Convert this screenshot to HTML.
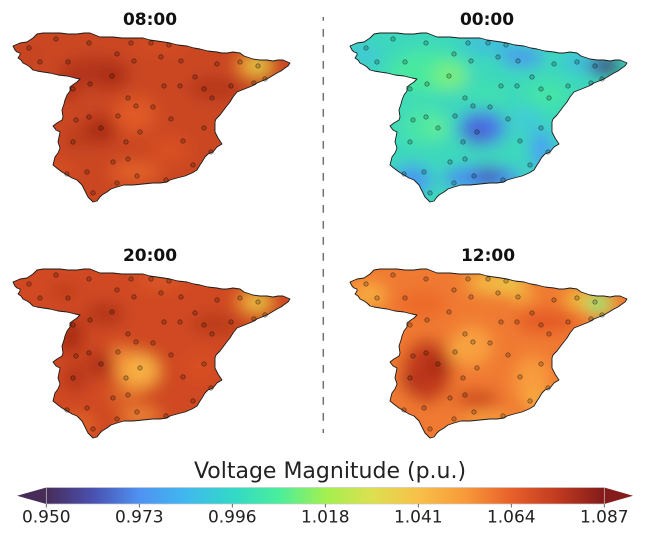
<!DOCTYPE html>
<html><head><meta charset="utf-8"><style>
html,body{margin:0;padding:0;background:#fff;}
svg{display:block;}
text{font-family:"DejaVu Sans","Liberation Sans",sans-serif;}
</style></head><body>
<svg width="646" height="547" viewBox="0 0 646 547" xmlns="http://www.w3.org/2000/svg">
<defs>
<clipPath id="cp"><path d="M13,46 L20,43 L27,42 L33,38 L37,34 L43,33 L50,33 L60,33 L68,34 L77,34 L84,33 L90,33 L95,35 L100,37 L113,37 L122,38 L130,38 L143,38 L150,40 L157,41 L164,42 L170,43 L178,45 L187,46 L194,48 L200,49 L208,51 L217,52 L222,53 L227,53 L233,52 L240,53 L244,56 L247,57 L253,59 L260,60 L267,60 L273,61 L278,60 L283,60 L290,63 L288,66 L285,68 L281,71 L277,73 L272,76 L267,79 L262,81 L257,83 L252,86 L247,88 L242,90 L237,92 L233,97 L230,102 L226,107 L220,115 L216,119 L215,122 L215,128 L215,132 L218,138 L222,144 L217,147 L213,152 L208,154 L205,157 L202,162 L200,165 L197,170 L192,173 L185,176 L177,178 L170,180 L167,182 L160,183 L153,183 L143,184 L133,185 L124,185 L117,187 L111,189 L107,192 L102,195 L100,197 L97,201 L93,202 L88,197 L85,191 L82,185 L77,180 L72,178 L67,175 L62,172 L58,169 L53,165 L54,161 L55,157 L58,153 L60,148 L58,142 L59,137 L60,132 L56,130 L53,126 L57,123 L62,120 L63,117 L62,110 L64,104 L65,100 L67,95 L70,91 L70,87 L74,84 L77,82 L80,79 L75,78 L67,76 L58,75 L50,73 L43,72 L37,71 L33,70 L30,67 L27,65 L23,63 L21,60 L18,58 L20,55 L20,53 L17,52 L15,50 Z"/></clipPath>
<path id="sp" d="M13,46 L20,43 L27,42 L33,38 L37,34 L43,33 L50,33 L60,33 L68,34 L77,34 L84,33 L90,33 L95,35 L100,37 L113,37 L122,38 L130,38 L143,38 L150,40 L157,41 L164,42 L170,43 L178,45 L187,46 L194,48 L200,49 L208,51 L217,52 L222,53 L227,53 L233,52 L240,53 L244,56 L247,57 L253,59 L260,60 L267,60 L273,61 L278,60 L283,60 L290,63 L288,66 L285,68 L281,71 L277,73 L272,76 L267,79 L262,81 L257,83 L252,86 L247,88 L242,90 L237,92 L233,97 L230,102 L226,107 L220,115 L216,119 L215,122 L215,128 L215,132 L218,138 L222,144 L217,147 L213,152 L208,154 L205,157 L202,162 L200,165 L197,170 L192,173 L185,176 L177,178 L170,180 L167,182 L160,183 L153,183 L143,184 L133,185 L124,185 L117,187 L111,189 L107,192 L102,195 L100,197 L97,201 L93,202 L88,197 L85,191 L82,185 L77,180 L72,178 L67,175 L62,172 L58,169 L53,165 L54,161 L55,157 L58,153 L60,148 L58,142 L59,137 L60,132 L56,130 L53,126 L57,123 L62,120 L63,117 L62,110 L64,104 L65,100 L67,95 L70,91 L70,87 L74,84 L77,82 L80,79 L75,78 L67,76 L58,75 L50,73 L43,72 L37,71 L33,70 L30,67 L27,65 L23,63 L21,60 L18,58 L20,55 L20,53 L17,52 L15,50 Z" fill="none" stroke="#1c1c1c" stroke-width="0.9" stroke-linejoin="round"/>
<filter id="bl" x="-10%" y="-10%" width="120%" height="120%"><feGaussianBlur stdDeviation="8"/></filter>
<g id="dots" fill="rgba(0,0,0,0.16)" stroke="rgba(0,0,0,0.55)" stroke-width="0.7">
<circle cx="56" cy="39" r="2.2"/><circle cx="89" cy="43" r="2.2"/><circle cx="131" cy="43" r="2.2"/><circle cx="151" cy="43" r="2.2"/><circle cx="169" cy="45" r="2.2"/><circle cx="29" cy="48" r="2.2"/><circle cx="117" cy="54" r="2.2"/><circle cx="161" cy="57" r="2.2"/><circle cx="134" cy="61" r="2.2"/><circle cx="181" cy="61" r="2.2"/><circle cx="68" cy="62" r="2.2"/><circle cx="40" cy="62" r="2.2"/><circle cx="217" cy="64" r="2.2"/><circle cx="240" cy="62" r="2.2"/><circle cx="258" cy="66" r="2.2"/><circle cx="112" cy="76" r="2.2"/><circle cx="195" cy="77" r="2.2"/><circle cx="265" cy="79" r="2.2"/><circle cx="254" cy="83" r="2.2"/><circle cx="90" cy="84" r="2.2"/><circle cx="164" cy="86" r="2.2"/><circle cx="180" cy="86" r="2.2"/><circle cx="231" cy="86" r="2.2"/><circle cx="73" cy="89" r="2.2"/><circle cx="204" cy="89" r="2.2"/><circle cx="212" cy="98" r="2.2"/><circle cx="128" cy="98" r="2.2"/><circle cx="136" cy="106" r="2.2"/><circle cx="153" cy="107" r="2.2"/><circle cx="118" cy="116" r="2.2"/><circle cx="89" cy="117" r="2.2"/><circle cx="76" cy="120" r="2.2"/><circle cx="171" cy="119" r="2.2"/><circle cx="204" cy="128" r="2.2"/><circle cx="101" cy="128" r="2.2"/><circle cx="140" cy="132" r="2.2"/><circle cx="183" cy="141" r="2.2"/><circle cx="73" cy="142" r="2.2"/><circle cx="126" cy="142" r="2.2"/><circle cx="211" cy="152" r="2.2"/><circle cx="128" cy="159" r="2.2"/><circle cx="113" cy="162" r="2.2"/><circle cx="193" cy="165" r="2.2"/><circle cx="87" cy="172" r="2.2"/><circle cx="67" cy="174" r="2.2"/><circle cx="137" cy="176" r="2.2"/><circle cx="166" cy="180" r="2.2"/><circle cx="117" cy="183" r="2.2"/><circle cx="93" cy="193" r="2.2"/>
</g>
<linearGradient id="cb" x1="0" y1="0" x2="1" y2="0">
<stop offset="0" stop-color="#472c58"/>
<stop offset="0.083" stop-color="#4a50b0"/>
<stop offset="0.167" stop-color="#4f92f2"/>
<stop offset="0.25" stop-color="#40b8ee"/>
<stop offset="0.333" stop-color="#32d8c8"/>
<stop offset="0.417" stop-color="#4aee9c"/>
<stop offset="0.5" stop-color="#a2f050"/>
<stop offset="0.583" stop-color="#dce050"/>
<stop offset="0.667" stop-color="#f8c048"/>
<stop offset="0.75" stop-color="#f89a3a"/>
<stop offset="0.833" stop-color="#e8602a"/>
<stop offset="0.917" stop-color="#c03a20"/>
<stop offset="1" stop-color="#821a1a"/>
</linearGradient>
</defs>

<!-- Map 08:00 -->
<g transform="translate(0,0)">
<g clip-path="url(#cp)"><g filter="url(#bl)">
<rect x="-30" y="0" width="360" height="230" fill="#ca4622"/>
<ellipse cx="30" cy="55" rx="15" ry="10" fill="#c64420"/>
<ellipse cx="95" cy="72" rx="35" ry="15" fill="#b3361c"/>
<ellipse cx="112" cy="78" rx="15" ry="10" fill="#a82c18"/>
<ellipse cx="68" cy="88" rx="12" ry="12" fill="#b03018"/>
<ellipse cx="100" cy="130" rx="16" ry="14" fill="#a82c18"/>
<ellipse cx="75" cy="140" rx="10" ry="10" fill="#b83a1c"/>
<ellipse cx="215" cy="88" rx="28" ry="10" fill="#b3341a"/>
<ellipse cx="135" cy="115" rx="22" ry="18" fill="#e05a26"/>
<ellipse cx="135" cy="172" rx="25" ry="10" fill="#e4622a"/>
<ellipse cx="170" cy="150" rx="20" ry="15" fill="#d85024"/>
<ellipse cx="160" cy="45" rx="30" ry="8" fill="#d44e22"/>
<ellipse cx="60" cy="170" rx="14" ry="10" fill="#d85024"/>
<ellipse cx="254" cy="66" rx="18" ry="10" fill="#f09838"/>
<ellipse cx="258" cy="66" rx="11" ry="8" fill="#f0c840"/>
<ellipse cx="259" cy="66" rx="6" ry="5" fill="#c8ec50"/>
</g></g>
<use href="#sp"/><use href="#dots"/>
</g>

<!-- Map 00:00 -->
<g transform="translate(337,0)">
<g clip-path="url(#cp)"><g filter="url(#bl)">
<rect x="-30" y="0" width="360" height="230" fill="#3cd8bc"/>
<ellipse cx="25" cy="55" rx="18" ry="12" fill="#40c8d4"/>
<ellipse cx="90" cy="72" rx="38" ry="22" fill="#4ae8a0"/>
<ellipse cx="113" cy="76" rx="18" ry="14" fill="#78ee80"/>
<ellipse cx="150" cy="44" rx="25" ry="8" fill="#40b8e2"/>
<ellipse cx="185" cy="57" rx="22" ry="10" fill="#4a98ee"/>
<ellipse cx="240" cy="62" rx="15" ry="8" fill="#40b8e4"/>
<ellipse cx="268" cy="66" rx="18" ry="11" fill="#4a58b8"/>
<ellipse cx="273" cy="67" rx="11" ry="8" fill="#3a1a50"/>
<ellipse cx="210" cy="95" rx="24" ry="14" fill="#44e4a8"/>
<ellipse cx="150" cy="95" rx="20" ry="12" fill="#40e0b0"/>
<ellipse cx="190" cy="120" rx="15" ry="15" fill="#40ccd4"/>
<ellipse cx="85" cy="125" rx="22" ry="20" fill="#48e4a8"/>
<ellipse cx="100" cy="128" rx="12" ry="12" fill="#60ec98"/>
<ellipse cx="145" cy="128" rx="24" ry="18" fill="#4a7ae8"/>
<ellipse cx="140" cy="133" rx="13" ry="11" fill="#4a60d0"/>
<ellipse cx="145" cy="178" rx="40" ry="12" fill="#4a88ee"/>
<ellipse cx="152" cy="176" rx="14" ry="9" fill="#4a50c0"/>
<ellipse cx="205" cy="150" rx="12" ry="20" fill="#48a0f0"/>
<ellipse cx="75" cy="180" rx="20" ry="15" fill="#4a98f0"/>
</g></g>
<use href="#sp"/><use href="#dots"/>
</g>

<!-- Map 20:00 -->
<g transform="translate(0,236)">
<g clip-path="url(#cp)"><g filter="url(#bl)">
<rect x="-30" y="0" width="360" height="230" fill="#d04a22"/>
<ellipse cx="65" cy="55" rx="15" ry="8" fill="#c03e1e"/>
<ellipse cx="105" cy="78" rx="20" ry="12" fill="#b3341a"/>
<ellipse cx="70" cy="100" rx="14" ry="18" fill="#a82c18"/>
<ellipse cx="100" cy="128" rx="12" ry="12" fill="#a82c18"/>
<ellipse cx="75" cy="142" rx="12" ry="14" fill="#b3341a"/>
<ellipse cx="138" cy="135" rx="22" ry="18" fill="#f8a840"/>
<ellipse cx="142" cy="132" rx="10" ry="8" fill="#f8b848"/>
<ellipse cx="120" cy="118" rx="10" ry="8" fill="#f08838"/>
<ellipse cx="125" cy="160" rx="18" ry="8" fill="#e06a2a"/>
<ellipse cx="140" cy="180" rx="20" ry="8" fill="#f08838"/>
<ellipse cx="80" cy="188" rx="15" ry="8" fill="#e46a2c"/>
<ellipse cx="215" cy="88" rx="25" ry="10" fill="#b83a1c"/>
<ellipse cx="160" cy="45" rx="25" ry="8" fill="#dc5826"/>
<ellipse cx="200" cy="130" rx="15" ry="15" fill="#d85024"/>
<ellipse cx="254" cy="66" rx="18" ry="10" fill="#f09838"/>
<ellipse cx="258" cy="66" rx="10" ry="8" fill="#f0c840"/>
<ellipse cx="259" cy="66" rx="5" ry="4" fill="#d0e850"/>
</g></g>
<use href="#sp"/><use href="#dots"/>
</g>

<!-- Map 12:00 -->
<g transform="translate(337,236)">
<g clip-path="url(#cp)"><g filter="url(#bl)">
<rect x="-30" y="0" width="360" height="230" fill="#f07a30"/>
<ellipse cx="30" cy="58" rx="18" ry="12" fill="#f8a83e"/>
<ellipse cx="40" cy="62" rx="8" ry="6" fill="#f8b848"/>
<ellipse cx="85" cy="68" rx="25" ry="15" fill="#ec6a2a"/>
<ellipse cx="160" cy="47" rx="30" ry="10" fill="#f4bc44"/>
<ellipse cx="172" cy="45" rx="10" ry="6" fill="#e4d44c"/>
<ellipse cx="185" cy="60" rx="12" ry="6" fill="#f4b040"/>
<ellipse cx="246" cy="64" rx="18" ry="8" fill="#f0c840"/>
<ellipse cx="262" cy="68" rx="13" ry="9" fill="#9cf060"/>
<ellipse cx="260" cy="67" rx="8" ry="6" fill="#50f088"/>
<ellipse cx="210" cy="85" rx="32" ry="12" fill="#e45a26"/>
<ellipse cx="135" cy="110" rx="20" ry="20" fill="#f8a040"/>
<ellipse cx="118" cy="116" rx="8" ry="8" fill="#f8b040"/>
<ellipse cx="90" cy="135" rx="25" ry="32" fill="#c23a1c"/>
<ellipse cx="100" cy="130" rx="12" ry="12" fill="#a82818"/>
<ellipse cx="73" cy="145" rx="10" ry="10" fill="#b02e1a"/>
<ellipse cx="140" cy="163" rx="22" ry="8" fill="#c8401e"/>
<ellipse cx="195" cy="145" rx="18" ry="25" fill="#f89c3c"/>
<ellipse cx="200" cy="165" rx="10" ry="10" fill="#f8b040"/>
<ellipse cx="150" cy="183" rx="25" ry="6" fill="#f8a840"/>
<ellipse cx="60" cy="190" rx="15" ry="10" fill="#e05a26"/>
</g></g>
<use href="#sp"/><use href="#dots"/>
</g>

<!-- Titles -->
<g font-size="17" font-weight="bold" text-anchor="middle" fill="#111">
<text x="150" y="25">08:00</text>
<text x="487" y="25">00:00</text>
<text x="150" y="261">20:00</text>
<text x="488" y="261">12:00</text>
</g>

<!-- Dashed divider -->
<line x1="323.3" y1="17" x2="323.3" y2="433" stroke="#707070" stroke-width="1.5" stroke-dasharray="7.7 8.3" stroke-dashoffset="4"/>

<!-- Colorbar -->
<text x="330" y="478" font-size="22" text-anchor="middle" fill="#222">Voltage Magnitude (p.u.)</text>
<polygon points="46.3,487.5 17,495.7 46.3,504" fill="#472c58"/>
<polygon points="604.3,487.5 633,495.7 604.3,504" fill="#851c1c"/>
<rect x="46.3" y="487.5" width="558" height="16.5" fill="url(#cb)" stroke="#c8c8c8" stroke-width="0.7"/>
<g stroke="#444" stroke-width="0.8">
<line x1="46.3" y1="504" x2="46.3" y2="507.5"/>
<line x1="139.3" y1="504" x2="139.3" y2="507.5"/>
<line x1="232.3" y1="504" x2="232.3" y2="507.5"/>
<line x1="325.3" y1="504" x2="325.3" y2="507.5"/>
<line x1="418.3" y1="504" x2="418.3" y2="507.5"/>
<line x1="511.3" y1="504" x2="511.3" y2="507.5"/>
<line x1="604.3" y1="504" x2="604.3" y2="507.5"/>
</g>
<g font-size="17" text-anchor="middle" fill="#222">
<text x="46.3" y="522.5">0.950</text>
<text x="139.3" y="522.5">0.973</text>
<text x="232.3" y="522.5">0.996</text>
<text x="325.3" y="522.5">1.018</text>
<text x="418.3" y="522.5">1.041</text>
<text x="511.3" y="522.5">1.064</text>
<text x="604.3" y="522.5">1.087</text>
</g>
</svg>
</body></html>
